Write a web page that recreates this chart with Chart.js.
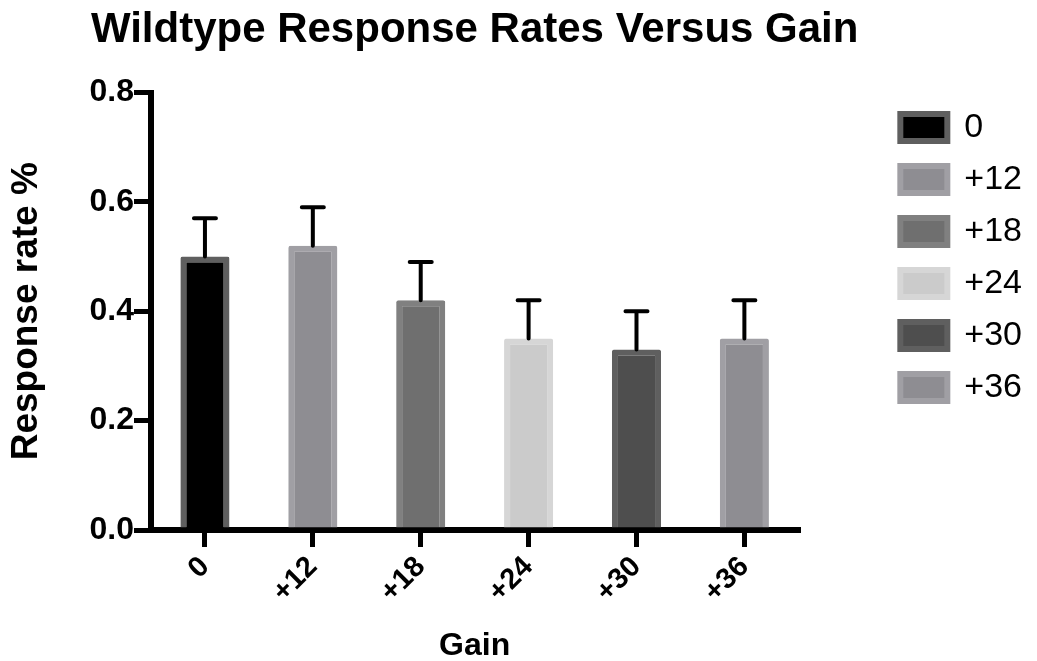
<!DOCTYPE html>
<html><head><meta charset="utf-8">
<script src="https://cdn.jsdelivr.net/npm/chart.js@4.4.1/dist/chart.umd.min.js"></script>
<style>html,body{margin:0;padding:0;background:#fff;} #wrap{width:1037px;height:661px;}</style>
</head><body><div id="wrap"><canvas id="c" width="1037" height="661"></canvas></div>
<script>
const categories = ['0', '+12', '+18', '+24', '+30', '+36'];
const responseRates = [0.50, 0.52, 0.42, 0.35, 0.33, 0.35];
const errorValues = [0.07, 0.07, 0.07, 0.07, 0.07, 0.07];
const yTickValues = [0, 0.2, 0.4, 0.6, 0.8];
const chartTitle = 'Wildtype Response Rates Versus Gain';

const fillColors = ['#000000', '#8e8d92', '#6f6f6f', '#cbcbcb', '#4e4e4e', '#8e8d92'];
const edgeColors = ['#5f5f5f', '#a09fa4', '#808080', '#d6d6d6', '#5f5f5f', '#a09fa4'];
const FONT = '"Liberation Sans", Arial, Helvetica, sans-serif';

Chart.defaults.font.family = FONT;
Chart.defaults.color = '#000';

const errorBarPlugin = {
  id: 'errorBars',
  afterDatasetsDraw(chart) {
    const ctx = chart.ctx;
    const y = chart.scales.y;
    const meta = chart.getDatasetMeta(0);
    ctx.save();
    ctx.strokeStyle = '#000';
    ctx.lineWidth = 4;
    ctx.lineCap = 'round';
    responseRates.forEach((v, i) => {
      const px = meta.data[i].x;
      const y0 = y.getPixelForValue(v);
      const y1 = y.getPixelForValue(v + errorValues[i]);
      ctx.beginPath();
      ctx.moveTo(px, y0);
      ctx.lineTo(px, y1);
      ctx.moveTo(px - 11, y1);
      ctx.lineTo(px + 11, y1);
      ctx.stroke();
    });
    ctx.restore();
  }
};

// Title centred over the plot area, allowed to run wider than it
const titlePlugin = {
  id: 'wideTitle',
  afterDraw(chart) {
    const ctx = chart.ctx;
    const a = chart.chartArea;
    ctx.save();
    ctx.fillStyle = '#000';
    ctx.font = 'bold 42px ' + FONT;
    ctx.textAlign = 'center';
    ctx.textBaseline = 'alphabetic';
    ctx.fillText(chartTitle, (a.left + a.right) / 2, 41.5);
    ctx.restore();
  }
};

new Chart(document.getElementById('c'), {
  type: 'bar',
  data: {
    labels: categories,
    datasets: [{
      label: 'Response rate',
      data: responseRates,
      backgroundColor: fillColors,
      borderColor: edgeColors,
      borderWidth: 6,
      borderRadius: 2,
      borderSkipped: 'start',
      barPercentage: 0.455,
      categoryPercentage: 1
    }]
  },
  options: {
    responsive: false,
    animation: false,
    devicePixelRatio: 1,
    layout: { padding: { left: 0, right: 5, top: 92.5, bottom: 0 } },
    plugins: {
      title: { display: false },
      legend: {
        display: true,
        position: 'right',
        align: 'start',
        fullSize: false,
        labels: {
          boxWidth: 47,
          boxHeight: 27,
          padding: 18,
          color: '#000',
          font: { size: 34 },
          generateLabels: () => categories.map((c, i) => ({
            text: c, fillStyle: fillColors[i], strokeStyle: edgeColors[i],
            lineWidth: 6, hidden: false, index: i, fontColor: '#000'
          }))
        }
      },
      tooltip: { enabled: false }
    },
    scales: {
      x: {
        type: 'category',
        offset: true,
        grid: { display: true, offset: false, drawOnChartArea: false, drawTicks: true, tickLength: 17, lineWidth: 5, color: '#000' },
        border: { display: true, width: 6, color: '#000' },
        ticks: { color: '#000', font: { size: 29, weight: 'bold' }, maxRotation: 45, minRotation: 45, padding: 3, autoSkip: false },
        title: { display: true, text: 'Gain', color: '#000', font: { size: 32, weight: 'bold', lineHeight: 0.95 }, padding: { top: 0, bottom: 0 } },
        afterFit: (s) => { s.height = 131; }
      },
      y: {
        min: 0,
        max: 0.8,
        afterBuildTicks: (s) => { s.ticks = yTickValues.map(v => ({ value: v })); },
        ticks: { color: '#000', font: { size: 32, weight: 'bold' }, padding: 0, callback: (v) => Number(v).toFixed(1) },
        grid: { drawOnChartArea: false, tickLength: 17, lineWidth: 5, color: '#000' },
        border: { width: 6, color: '#000' },
        title: { display: true, text: 'Response rate %', color: '#000', font: { size: 37, weight: 'bold' }, padding: { top: 4.5, bottom: 0 } },
        afterFit: (s) => { s.width = 151; }
      },
      spacer: {
        type: 'linear',
        position: 'right',
        display: true,
        grid: { display: false },
        border: { display: false },
        ticks: { display: false },
        afterFit: (s) => { s.width = 84; }
      }
    }
  },
  plugins: [errorBarPlugin, titlePlugin]
});
</script>
</body></html>
